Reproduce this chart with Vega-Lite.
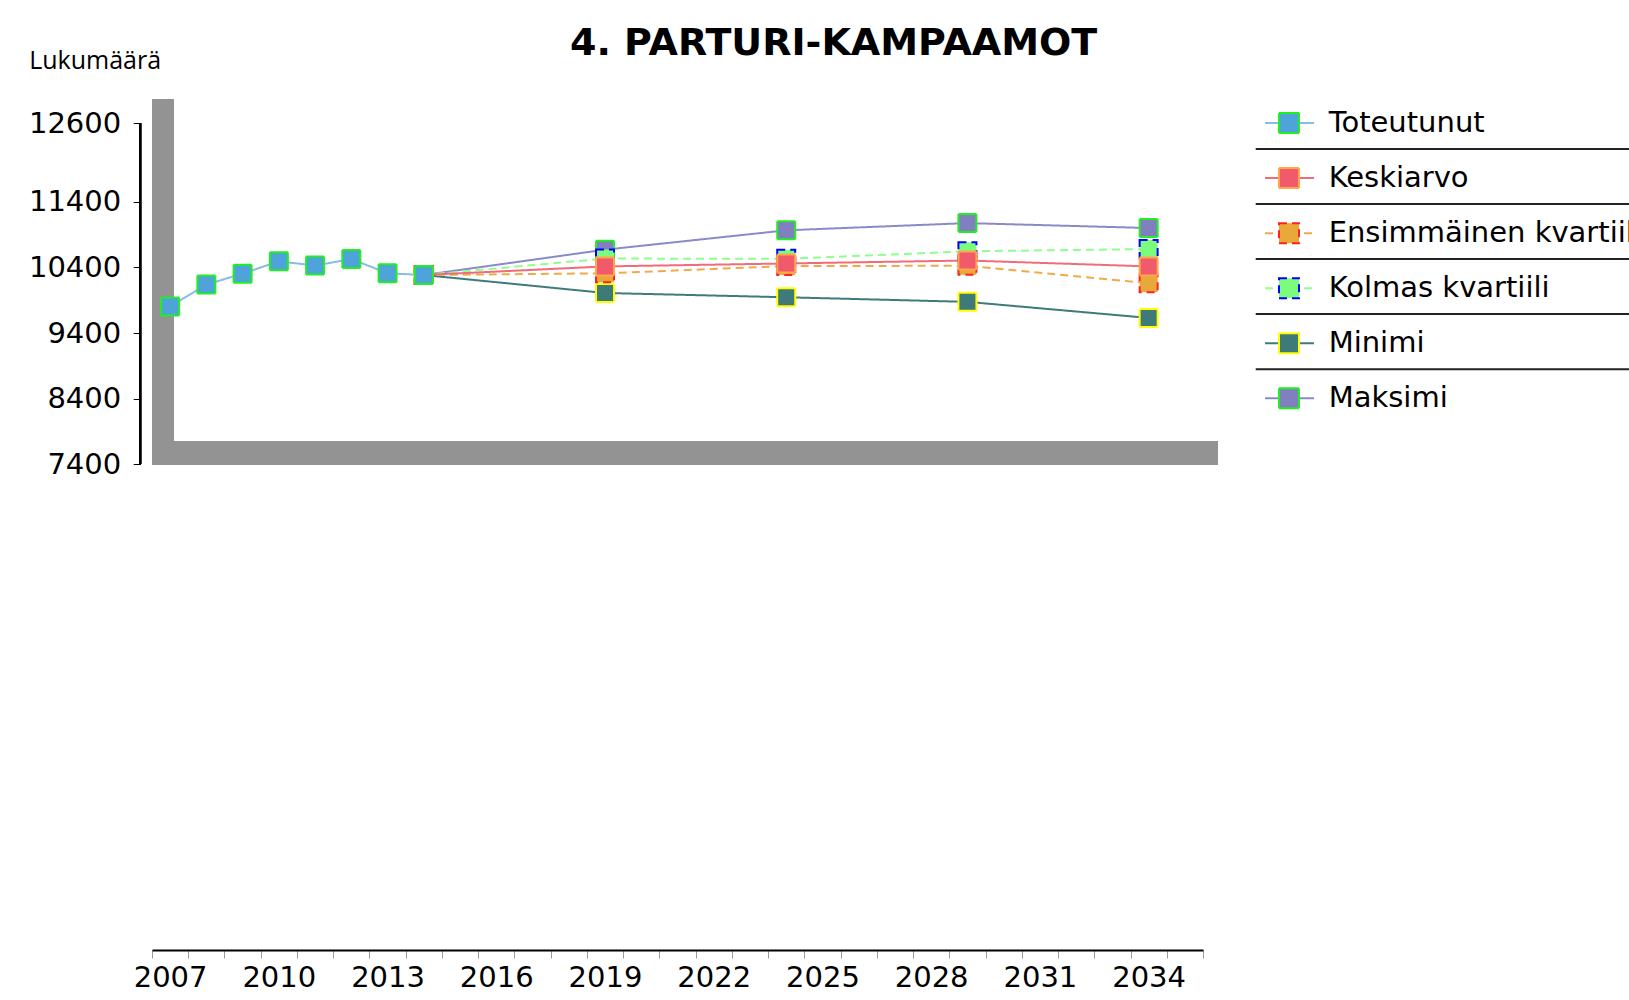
{
  "$schema": "https://vega.github.io/schema/vega-lite/v6.json",
  "background": "white",
  "padding": {"left": 28, "top": 24, "right": 0, "bottom": 0},
  "autosize": {"type": "pad"},
  "spacing": 52.7,
  "bounds": "flush",
  "config": {
    "view": {"stroke": null},
    "axis": {"grid": false},
    "legend": {"disable": true},
    "font": "DejaVu Sans"
  },
  "datasets": {
    "obs": [
      {"series": "Maksimi", "year": 2014, "value": 10284},
      {"series": "Maksimi", "year": 2019, "value": 10670},
      {"series": "Maksimi", "year": 2024, "value": 10965},
      {"series": "Maksimi", "year": 2029, "value": 11075},
      {"series": "Maksimi", "year": 2034, "value": 11000},
      {"series": "Minimi", "year": 2014, "value": 10284},
      {"series": "Minimi", "year": 2019, "value": 10010},
      {"series": "Minimi", "year": 2024, "value": 9945},
      {"series": "Minimi", "year": 2029, "value": 9875},
      {"series": "Minimi", "year": 2034, "value": 9630},
      {"series": "Kolmas kvartiili", "year": 2014, "value": 10284},
      {"series": "Kolmas kvartiili", "year": 2019, "value": 10535},
      {"series": "Kolmas kvartiili", "year": 2024, "value": 10530},
      {"series": "Kolmas kvartiili", "year": 2029, "value": 10645},
      {"series": "Kolmas kvartiili", "year": 2034, "value": 10680},
      {"series": "Ensimmäinen kvartiili", "year": 2014, "value": 10284},
      {"series": "Ensimmäinen kvartiili", "year": 2019, "value": 10310},
      {"series": "Ensimmäinen kvartiili", "year": 2024, "value": 10420},
      {"series": "Ensimmäinen kvartiili", "year": 2029, "value": 10425},
      {"series": "Ensimmäinen kvartiili", "year": 2034, "value": 10160},
      {"series": "Keskiarvo", "year": 2014, "value": 10284},
      {"series": "Keskiarvo", "year": 2019, "value": 10415},
      {"series": "Keskiarvo", "year": 2024, "value": 10460},
      {"series": "Keskiarvo", "year": 2029, "value": 10505},
      {"series": "Keskiarvo", "year": 2034, "value": 10415},
      {"series": "Toteutunut", "year": 2007, "value": 9805},
      {"series": "Toteutunut", "year": 2008, "value": 10138},
      {"series": "Toteutunut", "year": 2009, "value": 10305},
      {"series": "Toteutunut", "year": 2010, "value": 10493},
      {"series": "Toteutunut", "year": 2011, "value": 10427},
      {"series": "Toteutunut", "year": 2012, "value": 10528},
      {"series": "Toteutunut", "year": 2013, "value": 10310},
      {"series": "Toteutunut", "year": 2014, "value": 10284}
    ],
    "legend": [
      {"series": "Toteutunut"},
      {"series": "Keskiarvo"},
      {"series": "Ensimmäinen kvartiili"},
      {"series": "Kolmas kvartiili"},
      {"series": "Minimi"},
      {"series": "Maksimi"}
    ]
  },
  "hconcat": [
    {
      "width": 1051,
      "height": 827,
      "title": {
        "text": "4. PARTURI-KAMPAAMOT",
        "anchor": "start",
        "frame": "group",
        "dx": 418,
        "offset": -14.5,
        "fontSize": 38,
        "font": "DejaVu Sans",
        "fontWeight": "bold",
        "color": "black"
      },
      "layer": [
        {
          "data": {"name": "obs"},
          "mark": {"type": "rect", "color": "#939393"},
          "encoding": {
            "x": {"datum": 2006.5, "type": "quantitative", "scale": {"domain": [2006.5, 2035.5], "nice": false, "zero": false}},
            "x2": {"datum": 2007.1},
            "y": {"datum": 7400, "type": "quantitative", "scale": {"domain": [0, 12600], "nice": false, "zero": false}},
            "y2": {"datum": 12960}
          }
        },
        {
          "data": {"name": "obs"},
          "mark": {"type": "rect", "color": "#939393"},
          "encoding": {
            "x": {"datum": 2006.5, "type": "quantitative"},
            "x2": {"datum": 2035.9},
            "y": {"datum": 7400, "type": "quantitative"},
            "y2": {"datum": 7750}
          }
        },
        {
          "data": {"name": "obs"},
          "mark": {"type": "rule", "color": "black", "strokeWidth": 2},
          "encoding": {
            "x": {"datum": 2006.17, "type": "quantitative"},
            "y": {"datum": 7400, "type": "quantitative"},
            "y2": {"datum": 12600}
          }
        },
        {
          "data": {"name": "obs"},
          "mark": {"type": "line", "strokeWidth": 2},
          "encoding": {
            "x": {
              "field": "year",
              "type": "quantitative",
              "scale": {"domain": [2006.5, 2035.5], "nice": false, "zero": false},
              "axis": {
                "title": null,
                "values": [2006.5, 2007.5, 2008.5, 2009.5, 2010.5, 2011.5, 2012.5, 2013.5, 2014.5, 2015.5, 2016.5, 2017.5, 2018.5, 2019.5, 2020.5, 2021.5, 2022.5, 2023.5, 2024.5, 2025.5, 2026.5, 2027.5, 2028.5, 2029.5, 2030.5, 2031.5, 2032.5, 2033.5, 2034.5, 2035.5],
                "tickCount": 100,
                "labelExpr": "(datum.value - 2006.5) % 3 == 0 ? '' + (datum.value + 0.5) : ''",
                "labelOffset": 18.1,
                "labelOverlap": false,
                "labelFlush": false,
                "labelBound": false,
                "labelFont": "DejaVu Sans",
                "labelFontSize": 29,
                "labelColor": "black",
                "labelPadding": 5,
                "tickSize": 8,
                "tickColor": "#999999",
                "domainColor": "black",
                "domainWidth": 2
              }
            },
            "y": {
              "field": "value",
              "type": "quantitative",
              "scale": {"domain": [0, 12600], "nice": false, "zero": false},
              "axis": {
                "title": "Lukumäärä",
                "titleAngle": 0,
                "titleX": -111.5,
                "titleY": -62.7,
                "titleAlign": "left",
                "titleBaseline": "middle",
                "titleFont": "Open Sans",
                "titleFontSize": 25,
                "titleFontWeight": "normal",
                "titleColor": "black",
                "values": [7400, 8400, 9400, 10400, 11400, 12600],
                "tickCount": 100,
                "format": "d",
                "domain": false,
                "offset": 11.8,
                "tickSize": 7,
                "tickColor": "black",
                "labelFont": "DejaVu Sans",
                "labelFontSize": 29,
                "labelColor": "black",
                "labelPadding": 12.5,
                "labelOverlap": false,
                "labelBound": false
              }
            },
            "detail": {"field": "series"},
            "color": {
              "field": "series",
              "type": "nominal",
              "scale": {
                "domain": ["Toteutunut", "Keskiarvo", "Ensimmäinen kvartiili", "Kolmas kvartiili", "Minimi", "Maksimi"],
                "range": ["#85bde6", "#f26b7a", "#f0aa48", "#8dff8d", "#3f7b79", "#8a8ac8"]
              }
            },
            "strokeDash": {
              "field": "series",
              "type": "nominal",
              "scale": {
                "domain": ["Toteutunut", "Keskiarvo", "Ensimmäinen kvartiili", "Kolmas kvartiili", "Minimi", "Maksimi"],
                "range": [[1, 0], [1, 0], [8, 5], [8, 5], [1, 0], [1, 0]]
              }
            }
          }
        },
        {
          "data": {"name": "obs"},
          "mark": {"type": "point", "shape": "square", "filled": true, "opacity": 1, "size": 324, "strokeWidth": 2},
          "encoding": {
            "x": {"field": "year", "type": "quantitative"},
            "y": {"field": "value", "type": "quantitative"},
            "fill": {
              "field": "series",
              "type": "nominal",
              "scale": {
                "domain": ["Toteutunut", "Keskiarvo", "Ensimmäinen kvartiili", "Kolmas kvartiili", "Minimi", "Maksimi"],
                "range": ["#4ea3da", "#f15a6b", "#e8a83a", "#7cfc7c", "#3e7a78", "#8080c0"]
              }
            },
            "stroke": {
              "field": "series",
              "type": "nominal",
              "scale": {
                "domain": ["Toteutunut", "Keskiarvo", "Ensimmäinen kvartiili", "Kolmas kvartiili", "Minimi", "Maksimi"],
                "range": ["#22ee22", "#ffa84a", "#ff2020", "#0000ff", "#ffff00", "#22ee22"]
              }
            },
            "strokeDash": {"field": "series", "type": "nominal"}
          }
        }
      ]
    },
    {
      "width": 374,
      "height": 330,
      "data": {"name": "legend"},
      "encoding": {
        "y": {
          "field": "series",
          "type": "nominal",
          "sort": ["Toteutunut", "Keskiarvo", "Ensimmäinen kvartiili", "Kolmas kvartiili", "Minimi", "Maksimi"],
          "scale": {"type": "band", "domain": ["Toteutunut", "Keskiarvo", "Ensimmäinen kvartiili", "Kolmas kvartiili", "Minimi", "Maksimi"], "range": [-27.5, 302.9], "paddingInner": 0, "paddingOuter": 0},
          "axis": null
        }
      },
      "layer": [
        {
          "transform": [{"filter": "datum.series != 'Maksimi'"}],
          "mark": {"type": "rule", "color": "#222222", "strokeWidth": 2},
          "encoding": {
            "x": {"datum": 0, "type": "quantitative", "scale": {"domain": [0, 100], "nice": false, "zero": false}, "axis": null},
            "x2": {"datum": 100},
            "y": {"field": "series", "type": "nominal", "bandPosition": 0.97, "axis": null}
          }
        },
        {
          "mark": {"type": "rule", "strokeWidth": 2},
          "encoding": {
            "x": {"datum": 2.5, "type": "quantitative", "axis": null},
            "x2": {"datum": 15.6},
            "color": {
              "field": "series",
              "type": "nominal",
              "scale": {
                "domain": ["Toteutunut", "Keskiarvo", "Ensimmäinen kvartiili", "Kolmas kvartiili", "Minimi", "Maksimi"],
                "range": ["#85bde6", "#f26b7a", "#f0aa48", "#8dff8d", "#3f7b79", "#8a8ac8"]
              }
            },
            "strokeDash": {
              "field": "series",
              "type": "nominal",
              "scale": {
                "domain": ["Toteutunut", "Keskiarvo", "Ensimmäinen kvartiili", "Kolmas kvartiili", "Minimi", "Maksimi"],
                "range": [[1, 0], [1, 0], [8, 5], [8, 5], [1, 0], [1, 0]]
              }
            }
          }
        },
        {
          "mark": {"type": "point", "shape": "square", "filled": true, "opacity": 1, "size": 400, "strokeWidth": 2},
          "encoding": {
            "x": {"datum": 8.9, "type": "quantitative", "axis": null},
            "fill": {
              "field": "series",
              "type": "nominal",
              "scale": {
                "domain": ["Toteutunut", "Keskiarvo", "Ensimmäinen kvartiili", "Kolmas kvartiili", "Minimi", "Maksimi"],
                "range": ["#4ea3da", "#f15a6b", "#e8a83a", "#7cfc7c", "#3e7a78", "#8080c0"]
              }
            },
            "stroke": {
              "field": "series",
              "type": "nominal",
              "scale": {
                "domain": ["Toteutunut", "Keskiarvo", "Ensimmäinen kvartiili", "Kolmas kvartiili", "Minimi", "Maksimi"],
                "range": ["#22ee22", "#ffa84a", "#ff2020", "#0000ff", "#ffff00", "#22ee22"]
              }
            },
            "strokeDash": {"field": "series", "type": "nominal"}
          }
        },
        {
          "mark": {"type": "text", "align": "left", "baseline": "middle", "font": "DejaVu Sans", "fontSize": 29, "color": "black"},
          "encoding": {
            "x": {"datum": 19.5, "type": "quantitative", "axis": null},
            "text": {"field": "series", "type": "nominal"}
          }
        }
      ]
    }
  ]
}
